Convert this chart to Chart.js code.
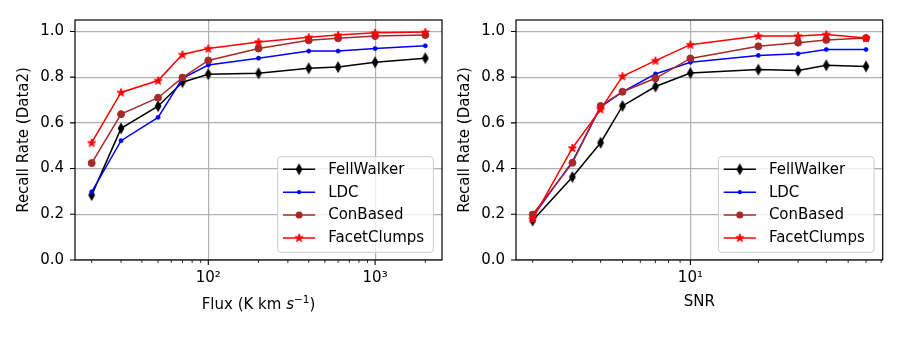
<!DOCTYPE html>
<html><head><meta charset="utf-8">
<script src="https://cdn.jsdelivr.net/npm/chart.js@4.4.0/dist/chart.umd.min.js"></script>
<style>
html,body{margin:0;padding:0;background:#fff;}
#wrap{position:relative;width:900px;height:338px;background:#fff;}
.c{position:absolute;top:0;width:450px;height:338px;}
</style></head><body>
<div id="wrap">
<div class="c" style="left:0"><canvas id="c1" width="450" height="338"></canvas></div>
<div class="c" style="left:450px"><canvas id="c2" width="450" height="338"></canvas></div>
</div>
<script>
// ---------- data ----------
const seriesNames = ['FellWalker', 'LDC', 'ConBased', 'FacetClumps'];

const fluxX = [20, 30, 50, 70, 100, 200, 400, 600, 1000, 2000];
const fluxFellWalker  = [0.284, 0.576, 0.673, 0.778, 0.813, 0.817, 0.839, 0.844, 0.865, 0.883];
const fluxLDC         = [0.298, 0.522, 0.624, 0.795, 0.853, 0.883, 0.914, 0.914, 0.925, 0.937];
const fluxConBased    = [0.424, 0.638, 0.710, 0.798, 0.873, 0.925, 0.961, 0.970, 0.980, 0.984];
const fluxFacetClumps = [0.513, 0.733, 0.785, 0.899, 0.925, 0.954, 0.974, 0.984, 0.994, 0.997];

const snrX = [2, 3, 4, 5, 7, 10, 20, 30, 40, 60];
const snrFellWalker  = [0.173, 0.363, 0.513, 0.674, 0.759, 0.818, 0.833, 0.829, 0.852, 0.847];
const snrLDC         = [0.190, 0.430, 0.670, 0.735, 0.814, 0.865, 0.895, 0.902, 0.921, 0.921];
const snrConBased    = [0.199, 0.425, 0.674, 0.736, 0.795, 0.882, 0.935, 0.951, 0.963, 0.971];
const snrFacetClumps = [0.180, 0.490, 0.659, 0.804, 0.872, 0.942, 0.980, 0.980, 0.987, 0.971];

const yTicks = [0.0, 0.2, 0.4, 0.6, 0.8, 1.0];
const fluxMajorTicks = [100, 1000];
const fluxMajorLabels = ['10\u00B2', '10\u00B3'];
const fluxMinorTicks = [20, 30, 40, 50, 60, 70, 80, 90, 200, 300, 400, 500, 600, 700, 800, 900, 2000];
const snrMajorTicks = [10];
const snrMajorLabels = ['10\u00B9'];
const snrMinorTicks = [2, 3, 4, 5, 6, 7, 8, 9, 20, 30, 40, 50, 60, 70];

const yLabel = 'Recall Rate (Data2)';
const fluxTitleParts = [{t: 'Flux (K km '}, {t: 's', italic: true}, {t: '\u22121', sup: true}, {t: ')'}];
const snrTitleParts = [{t: 'SNR'}];

// ---------- styles ----------
const FONT = 'DejaVu Sans';
const COLORS = ['#000000', '#0000ff', '#a52a2a', '#ff0000'];

function mk(w, h, draw) {
  const c = document.createElement('canvas');
  c.width = w; c.height = h;
  draw(c.getContext('2d'));
  return c;
}
const diamondImg = mk(10, 14, g => {
  g.fillStyle = '#000'; g.strokeStyle = '#000'; g.lineWidth = 1.2;
  g.beginPath(); g.moveTo(5, 2.3); g.lineTo(7.7, 7); g.lineTo(5, 11.7); g.lineTo(2.3, 7); g.closePath();
  g.fill(); g.stroke();
});
const starImg = mk(12, 12, g => {
  g.fillStyle = '#ff0000'; g.strokeStyle = '#ff0000'; g.lineWidth = 1;
  g.beginPath();
  const R = 4.3, r = R * 0.382;
  for (let i = 0; i < 10; i++) {
    const a = -Math.PI / 2 + i * Math.PI / 5;
    const rr = i % 2 === 0 ? R : r;
    const px = 6 + rr * Math.cos(a), py = 6.3 + rr * Math.sin(a);
    if (i === 0) g.moveTo(px, py); else g.lineTo(px, py);
  }
  g.closePath(); g.fill(); g.stroke();
});

function datasets(xs, series) {
  const marks = [
    {pointStyle: diamondImg, pointRadius: 4, pointBorderWidth: 0},
    {pointStyle: 'circle', pointRadius: 2.1, pointBorderWidth: 0.6},
    {pointStyle: 'circle', pointRadius: 3.5, pointBorderWidth: 1},
    {pointStyle: starImg, pointRadius: 4, pointBorderWidth: 0}
  ];
  return series.map((vals, k) => Object.assign({
    label: seriesNames[k],
    data: xs.map((x, i) => ({x: x, y: vals[i]})),
    borderColor: COLORS[k],
    backgroundColor: COLORS[k],
    pointBackgroundColor: COLORS[k],
    pointBorderColor: COLORS[k],
    borderWidth: 1.5,
    tension: 0,
    order: 4 - k
  }, marks[k]));
}

function drawLegendMarker(ctx, k, x, y) {
  if (k === 0) { ctx.drawImage(diamondImg, x - 5, y - 7); return; }
  if (k === 3) { ctx.drawImage(starImg, x - 6, y - 6.3); return; }
  ctx.beginPath();
  ctx.arc(x, y, k === 1 ? 2.1 : 3.5, 0, Math.PI * 2);
  ctx.fillStyle = COLORS[k]; ctx.fill();
}

const decor = {
  id: 'decor',
  afterDatasetsDraw(chart, args, o) {
    const ctx = chart.ctx, ca = chart.chartArea, xs = chart.scales.x, ys = chart.scales.y;
    ctx.save();
    ctx.strokeStyle = '#000'; ctx.lineWidth = 1.1;
    // tick marks
    ctx.beginPath();
    yTicks.forEach(v => { const p = ys.getPixelForValue(v); ctx.moveTo(ca.left - 5, p); ctx.lineTo(ca.left, p); });
    o.major.forEach(v => { const p = xs.getPixelForValue(v); ctx.moveTo(p, ca.bottom); ctx.lineTo(p, ca.bottom + 5); });
    ctx.stroke();
    ctx.beginPath(); ctx.lineWidth = 0.8;
    o.minor.forEach(v => { const p = xs.getPixelForValue(v); ctx.moveTo(p, ca.bottom); ctx.lineTo(p, ca.bottom + 3); });
    ctx.stroke();
    // frame
    ctx.lineWidth = 1.2; ctx.strokeStyle = '#000';
    ctx.strokeRect(ca.left, ca.top, ca.right - ca.left, ca.bottom - ca.top);

    // x title (mixed styles)
    const base = '15px "' + FONT + '"';
    const parts = o.xtitle.map(p => {
      const f = (p.italic ? 'oblique ' : '') + (p.sup ? '10.5px "' + FONT + '"' : base);
      ctx.font = f;
      return {t: p.t, f: f, w: ctx.measureText(p.t).width, dy: p.sup ? -6.5 : 0};
    });
    const tw = parts.reduce((s, p) => s + p.w, 0);
    let tx = (ca.left + ca.right) / 2 - tw / 2;
    ctx.fillStyle = '#000'; ctx.textBaseline = 'alphabetic'; ctx.textAlign = 'left';
    parts.forEach(p => { ctx.font = p.f; ctx.fillText(p.t, tx, o.xtitleY + p.dy); tx += p.w; });

    // legend
    const bw = 155.6, bh = 95.6;
    const bx = ca.right - 8.7 - bw, by = ca.bottom - 7.7 - bh;
    const r = 3;
    ctx.beginPath();
    ctx.moveTo(bx + r, by); ctx.lineTo(bx + bw - r, by); ctx.arcTo(bx + bw, by, bx + bw, by + r, r);
    ctx.lineTo(bx + bw, by + bh - r); ctx.arcTo(bx + bw, by + bh, bx + bw - r, by + bh, r);
    ctx.lineTo(bx + r, by + bh); ctx.arcTo(bx, by + bh, bx, by + bh - r, r);
    ctx.lineTo(bx, by + r); ctx.arcTo(bx, by, bx + r, by, r); ctx.closePath();
    ctx.fillStyle = 'rgba(255,255,255,0.8)'; ctx.fill();
    ctx.strokeStyle = '#cccccc'; ctx.lineWidth = 1; ctx.stroke();
    ctx.font = base; ctx.textBaseline = 'middle';
    seriesNames.forEach((name, k) => {
      const ry = by + 12.6 + k * 22.9;
      ctx.strokeStyle = COLORS[k]; ctx.lineWidth = 1.5;
      ctx.beginPath(); ctx.moveTo(bx + 5.3, ry); ctx.lineTo(bx + 37.5, ry); ctx.stroke();
      drawLegendMarker(ctx, k, bx + 21.4, ry);
      ctx.fillStyle = '#000';
      ctx.fillText(name, bx + 50.5, ry + 0.5);
    });
    ctx.restore();
  }
};

function makeChart(id, xs, series, xmin, xmax, major, majorLabels, minor, yAxisW, pad, ytitlePad, xtitle, xtitleY) {
  const allTicks = minor.concat(major).sort((a, b) => a - b);
  return new Chart(document.getElementById(id), {
    type: 'line',
    data: {datasets: datasets(xs, series)},
    plugins: [decor],
    options: {
      responsive: false,
      animation: false,
      devicePixelRatio: 1,
      layout: {padding: {top: 16.7, right: pad, left: 0, bottom: 0}},
      plugins: {
        legend: {display: false},
        tooltip: {enabled: false},
        decor: {major: major, minor: minor, xtitle: xtitle, xtitleY: xtitleY}
      },
      scales: {
        x: {
          type: 'logarithmic',
          min: xmin, max: xmax,
          afterBuildTicks: s => { s.ticks = allTicks.map(v => ({value: v, major: major.includes(v)})); },
          afterFit: s => { s.height = 78; },
          border: {display: false},
          grid: {
            drawTicks: false, lineWidth: 1.2,
            color: c => (c.tick && major.includes(c.tick.value)) ? '#b0b0b0' : 'rgba(0,0,0,0)'
          },
          ticks: {
            autoSkip: false, maxRotation: 0, minRotation: 0, padding: 9, color: '#000',
            font: {family: FONT, size: 15},
            callback: v => { const i = major.indexOf(v); return i >= 0 ? majorLabels[i] : ''; }
          }
        },
        y: {
          type: 'linear', min: 0, max: 1.05,
          afterBuildTicks: s => { s.ticks = yTicks.map(v => ({value: v})); },
          afterFit: s => { s.width = yAxisW; },
          border: {display: false},
          grid: {drawTicks: false, lineWidth: 1.2, color: '#b0b0b0'},
          ticks: {padding: 11, color: '#000', font: {family: FONT, size: 15}, callback: v => Number(v).toFixed(1)},
          title: {display: true, text: yLabel, color: '#000', font: {family: FONT, size: 15}, padding: {top: ytitlePad, bottom: 0}}
        }
      }
    }
  });
}

makeChart('c1', fluxX, [fluxFellWalker, fluxLDC, fluxConBased, fluxFacetClumps],
  Math.pow(10, 1.2010), Math.pow(10, 3.4010), fluxMajorTicks, fluxMajorLabels, fluxMinorTicks,
  75, 8, 15, fluxTitleParts, 309);
makeChart('c2', snrX, [snrFellWalker, snrLDC, snrConBased, snrFacetClumps],
  Math.pow(10, 0.2271), Math.pow(10, 1.8520), snrMajorTicks, snrMajorLabels, snrMinorTicks,
  66, 17.3, 6.5, snrTitleParts, 305.5);
</script>
</body></html>
